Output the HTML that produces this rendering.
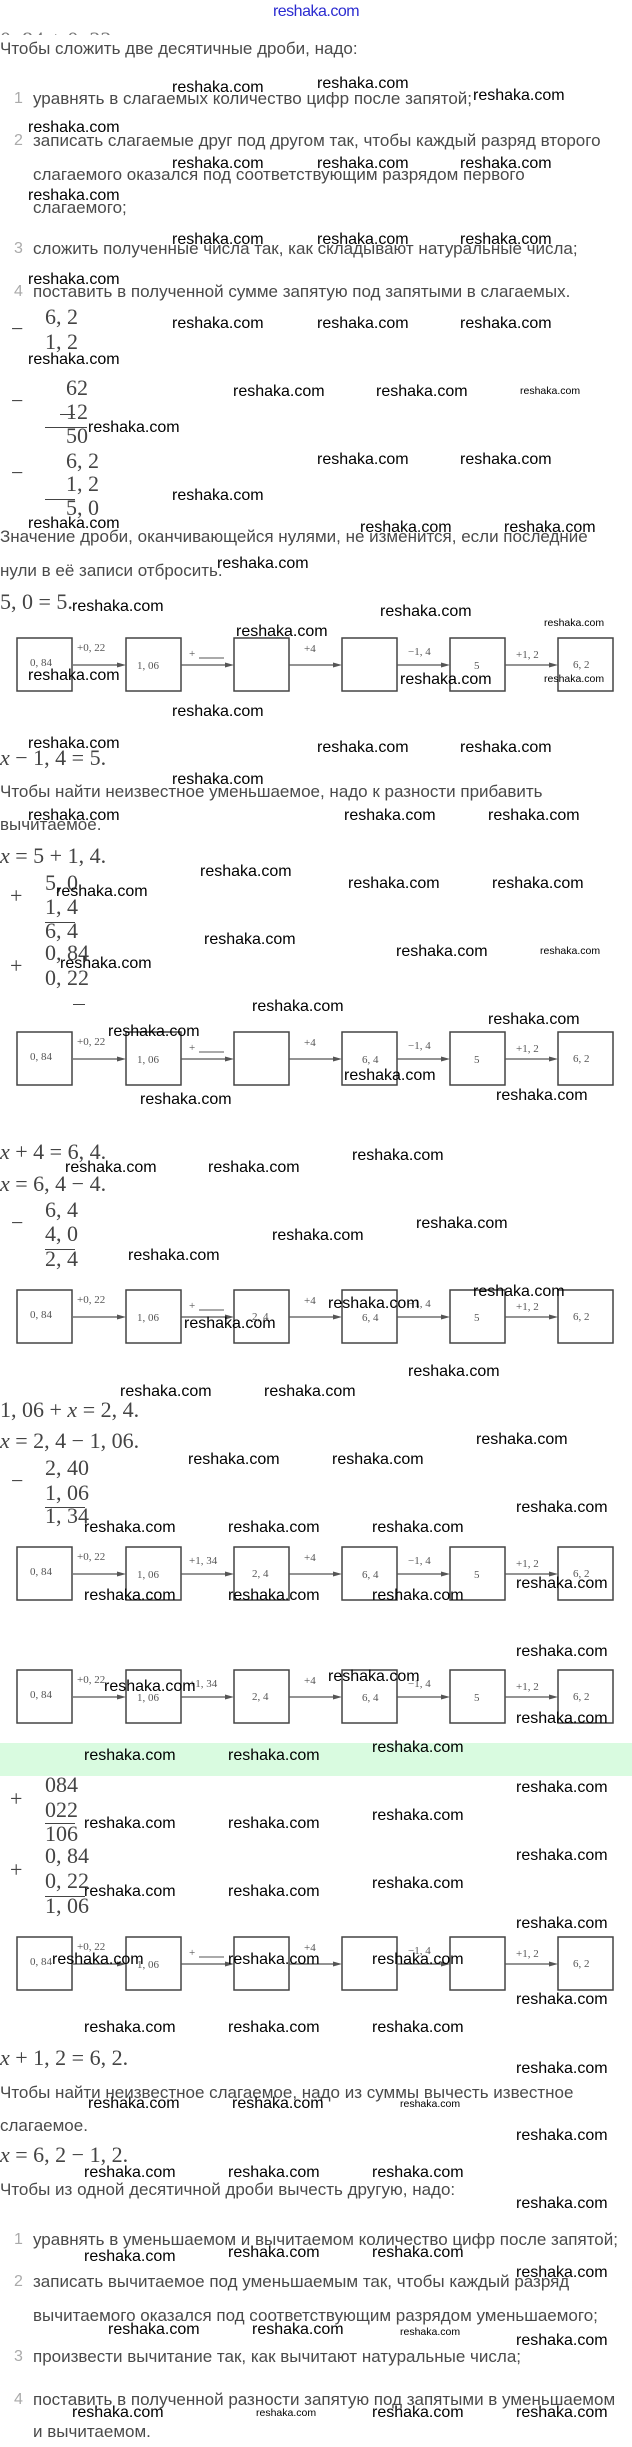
<!DOCTYPE html>
<html><head><meta charset="utf-8">
<style>
body{margin:0;background:#fff;}
#p{position:relative;width:632px;height:2447px;overflow:hidden;background:#fff;}
.t{position:absolute;font-family:"Liberation Sans",sans-serif;font-size:17px;line-height:20px;color:#4a4a4a;white-space:nowrap;}
.n{position:absolute;font-family:"Liberation Sans",sans-serif;font-size:16px;line-height:20px;color:#aaa;}
.m{position:absolute;font-family:"Liberation Serif",serif;font-size:22px;line-height:24px;color:#444;white-space:nowrap;}
.m i{font-style:italic;}
.hr{position:absolute;height:1px;background:#444;}
.w{position:absolute;font-family:"Liberation Sans",sans-serif;font-size:16px;line-height:18px;color:#000;white-space:nowrap;}
.ws{position:absolute;font-family:"Liberation Sans",sans-serif;font-size:10.5px;line-height:12px;color:#000;white-space:nowrap;}
</style></head><body><div id="p">

<div class="t" style="left:0;width:632px;top:2px;text-align:center;color:#2b2bd0;font-size:16px;letter-spacing:-0.5px">reshaka.com</div>
<div style="position:absolute;left:0;top:28px;height:7px;overflow:hidden;width:200px"><div class="m" style="left:0;top:0;color:#777">0, 84 + 0, 22</div></div>

<div class="t" style="left:0;top:39px">Чтобы сложить две десятичные дроби, надо:</div>
<div class="n" style="left:14px;top:89px">1</div><div class="t" style="left:33px;top:89px">уравнять в слагаемых количество цифр после запятой;</div>
<div class="n" style="left:14px;top:131px">2</div><div class="t" style="left:33px;top:131px">записать слагаемые друг под другом так, чтобы каждый разряд второго</div>
<div class="t" style="left:33px;top:165px">слагаемого оказался под соответствующим разрядом первого</div>
<div class="t" style="left:33px;top:198px">слагаемого;</div>
<div class="n" style="left:14px;top:239px">3</div><div class="t" style="left:33px;top:239px">сложить полученные числа так, как складывают натуральные числа;</div>
<div class="n" style="left:14px;top:282px">4</div><div class="t" style="left:33px;top:282px">поставить в полученной сумме запятую под запятыми в слагаемых.</div>

<!-- subtraction 1 -->
<div class="m" style="left:11px;top:317px">−</div>
<div class="m" style="left:45px;top:305px">6, 2</div>
<div class="m" style="left:45px;top:330px">1, 2</div>
<div class="hr" style="left:60px;top:414px;width:15px"></div>
<div class="m" style="left:11px;top:389px">−</div>
<div class="m" style="left:66px;top:376px">62</div>
<div class="m" style="left:66px;top:400px">12</div>
<div class="hr" style="left:45px;top:427px;width:42px"></div>
<div class="m" style="left:66px;top:424px">50</div>
<div class="m" style="left:11px;top:461px">−</div>
<div class="m" style="left:66px;top:449px">6, 2</div>
<div class="m" style="left:66px;top:472px">1, 2</div>
<div class="hr" style="left:45px;top:499px;width:30px"></div>
<div class="m" style="left:66px;top:496px">5, 0</div>

<div class="t" style="left:0;top:527px">Значение дроби, оканчивающейся нулями, не изменится, если последние</div>
<div class="t" style="left:0;top:561px">нули в её записи отбросить.</div>
<div class="m" style="left:0;top:590px">5, 0 = 5.</div>

<div class="m" style="left:0;top:746px"><i>x</i> − 1, 4 = 5.</div>
<div class="t" style="left:0;top:782px">Чтобы найти неизвестное уменьшаемое, надо к разности прибавить</div>
<div class="t" style="left:0;top:815px">вычитаемое.</div>
<div class="m" style="left:0;top:844px"><i>x</i> = 5 + 1, 4.</div>

<div class="m" style="left:10px;top:884px">+</div>
<div class="m" style="left:45px;top:871px">5, 0</div>
<div class="m" style="left:45px;top:895px">1, 4</div>
<div class="hr" style="left:45px;top:922px;width:30px"></div>
<div class="m" style="left:45px;top:919px">6, 4</div>
<div class="m" style="left:10px;top:954px">+</div>
<div class="m" style="left:45px;top:941px">0, 84</div>
<div class="m" style="left:45px;top:966px">0, 22</div>
<div class="hr" style="left:73px;top:1004px;width:12px"></div>

<div class="m" style="left:0;top:1140px"><i>x</i> + 4 = 6, 4.</div>
<div class="m" style="left:0;top:1172px"><i>x</i> = 6, 4 − 4.</div>
<div class="m" style="left:11px;top:1211px">−</div>
<div class="m" style="left:45px;top:1198px">6, 4</div>
<div class="m" style="left:45px;top:1222px">4, 0</div>
<div class="hr" style="left:45px;top:1249px;width:30px"></div>
<div class="m" style="left:45px;top:1247px">2, 4</div>

<div class="m" style="left:0;top:1398px">1, 06 + <i>x</i> = 2, 4.</div>
<div class="m" style="left:0;top:1429px"><i>x</i> = 2, 4 − 1, 06.</div>
<div class="m" style="left:11px;top:1469px">−</div>
<div class="m" style="left:45px;top:1456px">2, 40</div>
<div class="m" style="left:45px;top:1481px">1, 06</div>
<div class="hr" style="left:45px;top:1507px;width:40px"></div>
<div class="m" style="left:45px;top:1504px">1, 34</div>

<div style="position:absolute;left:0;top:1743px;width:632px;height:33px;background:#d9fbe0"></div>
<div class="m" style="left:10px;top:1787px">+</div>
<div class="m" style="left:45px;top:1773px">084</div>
<div class="m" style="left:45px;top:1798px">022</div>
<div class="hr" style="left:45px;top:1823px;width:30px"></div>
<div class="m" style="left:45px;top:1822px">106</div>
<div class="m" style="left:10px;top:1858px">+</div>
<div class="m" style="left:45px;top:1844px">0, 84</div>
<div class="m" style="left:45px;top:1869px">0, 22</div>
<div class="hr" style="left:45px;top:1896px;width:40px"></div>
<div class="m" style="left:45px;top:1894px">1, 06</div>

<div class="m" style="left:0;top:2046px"><i>x</i> + 1, 2 = 6, 2.</div>
<div class="t" style="left:0;top:2083px">Чтобы найти неизвестное слагаемое, надо из суммы вычесть известное</div>
<div class="t" style="left:0;top:2116px">слагаемое.</div>
<div class="m" style="left:0;top:2143px"><i>x</i> = 6, 2 − 1, 2.</div>
<div class="t" style="left:0;top:2180px">Чтобы из одной десятичной дроби вычесть другую, надо:</div>
<div class="n" style="left:14px;top:2230px">1</div><div class="t" style="left:33px;top:2230px">уравнять в уменьшаемом и вычитаемом количество цифр после запятой;</div>
<div class="n" style="left:14px;top:2272px">2</div><div class="t" style="left:33px;top:2272px">записать вычитаемое под уменьшаемым так, чтобы каждый разряд</div>
<div class="t" style="left:33px;top:2306px">вычитаемого оказался под соответствующим разрядом уменьшаемого;</div>
<div class="n" style="left:14px;top:2347px">3</div><div class="t" style="left:33px;top:2347px">произвести вычитание так, как вычитают натуральные числа;</div>
<div class="n" style="left:14px;top:2390px">4</div><div class="t" style="left:33px;top:2390px">поставить в полученной разности запятую под запятыми в уменьшаемом</div>
<div class="t" style="left:33px;top:2422px">и вычитаемом.</div>

<svg style="position:absolute;left:0;top:0" width="632" height="2447" font-family="Liberation Serif, serif" font-size="11" fill="#555">
<defs>
<g id="frame" stroke="#444" stroke-width="1.5" fill="none">
<rect x="17" y="0" width="55" height="53"/><rect x="126" y="0" width="55" height="53"/>
<rect x="234" y="0" width="55" height="53"/><rect x="342" y="0" width="55" height="53"/>
<rect x="450" y="0" width="55" height="53"/><rect x="558" y="0" width="55" height="53"/>
<g stroke="#555" stroke-width="1.2">
<line x1="73" y1="27" x2="122" y2="27"/><line x1="181" y1="27" x2="230" y2="27"/>
<line x1="289" y1="27" x2="338" y2="27"/><line x1="397" y1="27" x2="446" y2="27"/>
<line x1="505" y1="27" x2="554" y2="27"/></g>
<g fill="#555" stroke="none">
<polygon points="126,27 117,24.5 117,29.5"/><polygon points="234,27 225,24.5 225,29.5"/>
<polygon points="342,27 333,24.5 333,29.5"/><polygon points="450,27 441,24.5 441,29.5"/>
<polygon points="558,27 549,24.5 549,29.5"/></g>
</g>
<g id="lab">
<text x="77" y="13">+0, 22</text><text x="304" y="14">+4</text>
<text x="408" y="17">−1, 4</text><text x="516" y="20">+1, 2</text>
<text x="30" y="28">0, 84</text><text x="137" y="31">1, 06</text><text x="573" y="30">6, 2</text>
</g>
<g id="blank"><text x="189" y="19">+</text><line x1="199" y1="20" x2="224" y2="20" stroke="#555" stroke-width="1"/></g>
</defs>
<g transform="translate(0,638)"><use href="#frame"/><use href="#lab"/><use href="#blank"/><text x="474" y="31">5</text></g>
<g transform="translate(0,1032)"><use href="#frame"/><use href="#lab"/><use href="#blank"/><text x="362" y="31">6, 4</text><text x="474" y="31">5</text></g>
<g transform="translate(0,1290)"><use href="#frame"/><use href="#lab"/><use href="#blank"/><text x="252" y="30">2, 4</text><text x="362" y="31">6, 4</text><text x="474" y="31">5</text></g>
<g transform="translate(0,1547)"><use href="#frame"/><use href="#lab"/><text x="189" y="17">+1, 34</text><text x="252" y="30">2, 4</text><text x="362" y="31">6, 4</text><text x="474" y="31">5</text></g>
<g transform="translate(0,1670)"><use href="#frame"/><use href="#lab"/><text x="189" y="17">+1, 34</text><text x="252" y="30">2, 4</text><text x="362" y="31">6, 4</text><text x="474" y="31">5</text></g>
<g transform="translate(0,1937)"><use href="#frame"/><use href="#lab"/><use href="#blank"/></g>
</svg>

<!-- watermarks -->
<div class="w" style="left:172px;top:79px">reshaka.com</div><div class="w" style="left:317px;top:75px">reshaka.com</div><div class="w" style="left:473px;top:87px">reshaka.com</div>
<div class="w" style="left:28px;top:119px">reshaka.com</div>
<div class="w" style="left:172px;top:155px">reshaka.com</div><div class="w" style="left:317px;top:155px">reshaka.com</div><div class="w" style="left:460px;top:155px">reshaka.com</div>
<div class="w" style="left:28px;top:187px">reshaka.com</div>
<div class="w" style="left:172px;top:231px">reshaka.com</div><div class="w" style="left:317px;top:231px">reshaka.com</div><div class="w" style="left:460px;top:231px">reshaka.com</div>
<div class="w" style="left:28px;top:271px">reshaka.com</div>
<div class="w" style="left:172px;top:315px">reshaka.com</div><div class="w" style="left:317px;top:315px">reshaka.com</div><div class="w" style="left:460px;top:315px">reshaka.com</div>
<div class="w" style="left:28px;top:351px">reshaka.com</div>
<div class="w" style="left:233px;top:383px">reshaka.com</div><div class="w" style="left:376px;top:383px">reshaka.com</div><div class="ws" style="left:520px;top:385px">reshaka.com</div>
<div class="w" style="left:88px;top:419px">reshaka.com</div>
<div class="w" style="left:317px;top:451px">reshaka.com</div><div class="w" style="left:460px;top:451px">reshaka.com</div>
<div class="w" style="left:172px;top:487px">reshaka.com</div>
<div class="w" style="left:28px;top:515px">reshaka.com</div><div class="w" style="left:360px;top:519px">reshaka.com</div><div class="w" style="left:504px;top:519px">reshaka.com</div>
<div class="w" style="left:217px;top:555px">reshaka.com</div>
<div class="w" style="left:72px;top:598px">reshaka.com</div><div class="w" style="left:380px;top:603px">reshaka.com</div><div class="ws" style="left:544px;top:617px">reshaka.com</div>
<div class="w" style="left:236px;top:623px">reshaka.com</div>
<div class="w" style="left:28px;top:667px">reshaka.com</div><div class="w" style="left:400px;top:671px">reshaka.com</div><div class="ws" style="left:544px;top:673px">reshaka.com</div>
<div class="w" style="left:172px;top:703px">reshaka.com</div>
<div class="w" style="left:28px;top:735px">reshaka.com</div><div class="w" style="left:317px;top:739px">reshaka.com</div><div class="w" style="left:460px;top:739px">reshaka.com</div>
<div class="w" style="left:172px;top:771px">reshaka.com</div>
<div class="w" style="left:28px;top:807px">reshaka.com</div><div class="w" style="left:344px;top:807px">reshaka.com</div><div class="w" style="left:488px;top:807px">reshaka.com</div>
<div class="w" style="left:200px;top:863px">reshaka.com</div><div class="w" style="left:56px;top:883px">reshaka.com</div><div class="w" style="left:348px;top:875px">reshaka.com</div><div class="w" style="left:492px;top:875px">reshaka.com</div>
<div class="w" style="left:204px;top:931px">reshaka.com</div><div class="w" style="left:396px;top:943px">reshaka.com</div><div class="ws" style="left:540px;top:945px">reshaka.com</div>
<div class="w" style="left:60px;top:955px">reshaka.com</div>
<div class="w" style="left:252px;top:998px">reshaka.com</div><div class="w" style="left:488px;top:1011px">reshaka.com</div>
<div class="w" style="left:108px;top:1023px">reshaka.com</div>
<div class="w" style="left:344px;top:1067px">reshaka.com</div><div class="w" style="left:140px;top:1091px">reshaka.com</div><div class="w" style="left:496px;top:1087px">reshaka.com</div>
<div class="w" style="left:352px;top:1147px">reshaka.com</div><div class="w" style="left:65px;top:1159px">reshaka.com</div><div class="w" style="left:208px;top:1159px">reshaka.com</div>
<div class="w" style="left:416px;top:1215px">reshaka.com</div><div class="w" style="left:272px;top:1227px">reshaka.com</div><div class="w" style="left:128px;top:1247px">reshaka.com</div>
<div class="w" style="left:473px;top:1283px">reshaka.com</div><div class="w" style="left:328px;top:1295px">reshaka.com</div><div class="w" style="left:184px;top:1315px">reshaka.com</div>
<div class="w" style="left:408px;top:1363px">reshaka.com</div><div class="w" style="left:120px;top:1383px">reshaka.com</div><div class="w" style="left:264px;top:1383px">reshaka.com</div>
<div class="w" style="left:476px;top:1431px">reshaka.com</div><div class="w" style="left:188px;top:1451px">reshaka.com</div><div class="w" style="left:332px;top:1451px">reshaka.com</div>
<div class="w" style="left:516px;top:1499px">reshaka.com</div>
<div class="w" style="left:84px;top:1519px">reshaka.com</div><div class="w" style="left:228px;top:1519px">reshaka.com</div><div class="w" style="left:372px;top:1519px">reshaka.com</div>
<div class="w" style="left:516px;top:1575px">reshaka.com</div>
<div class="w" style="left:84px;top:1587px">reshaka.com</div><div class="w" style="left:228px;top:1587px">reshaka.com</div><div class="w" style="left:372px;top:1587px">reshaka.com</div>
<div class="w" style="left:516px;top:1643px">reshaka.com</div><div class="w" style="left:328px;top:1668px">reshaka.com</div><div class="w" style="left:104px;top:1678px">reshaka.com</div>
<div class="w" style="left:516px;top:1710px">reshaka.com</div>
<div class="w" style="left:84px;top:1747px">reshaka.com</div><div class="w" style="left:228px;top:1747px">reshaka.com</div><div class="w" style="left:372px;top:1739px">reshaka.com</div>
<div class="w" style="left:516px;top:1779px">reshaka.com</div><div class="w" style="left:372px;top:1807px">reshaka.com</div>
<div class="w" style="left:84px;top:1815px">reshaka.com</div><div class="w" style="left:228px;top:1815px">reshaka.com</div>
<div class="w" style="left:516px;top:1847px">reshaka.com</div><div class="w" style="left:372px;top:1875px">reshaka.com</div>
<div class="w" style="left:84px;top:1883px">reshaka.com</div><div class="w" style="left:228px;top:1883px">reshaka.com</div>
<div class="w" style="left:516px;top:1915px">reshaka.com</div>
<div class="w" style="left:52px;top:1951px">reshaka.com</div><div class="w" style="left:228px;top:1951px">reshaka.com</div><div class="w" style="left:372px;top:1951px">reshaka.com</div>
<div class="w" style="left:516px;top:1991px">reshaka.com</div>
<div class="w" style="left:84px;top:2019px">reshaka.com</div><div class="w" style="left:228px;top:2019px">reshaka.com</div><div class="w" style="left:372px;top:2019px">reshaka.com</div>
<div class="w" style="left:516px;top:2060px">reshaka.com</div>
<div class="w" style="left:88px;top:2095px">reshaka.com</div><div class="w" style="left:232px;top:2095px">reshaka.com</div><div class="ws" style="left:400px;top:2098px">reshaka.com</div>
<div class="w" style="left:516px;top:2127px">reshaka.com</div>
<div class="w" style="left:84px;top:2164px">reshaka.com</div><div class="w" style="left:228px;top:2164px">reshaka.com</div><div class="w" style="left:372px;top:2164px">reshaka.com</div>
<div class="w" style="left:516px;top:2195px">reshaka.com</div>
<div class="w" style="left:84px;top:2248px">reshaka.com</div><div class="w" style="left:228px;top:2244px">reshaka.com</div><div class="w" style="left:372px;top:2244px">reshaka.com</div>
<div class="w" style="left:516px;top:2264px">reshaka.com</div>
<div class="w" style="left:108px;top:2321px">reshaka.com</div><div class="w" style="left:252px;top:2321px">reshaka.com</div><div class="ws" style="left:400px;top:2326px">reshaka.com</div>
<div class="w" style="left:516px;top:2332px">reshaka.com</div>
<div class="w" style="left:72px;top:2404px">reshaka.com</div><div class="ws" style="left:256px;top:2407px">reshaka.com</div><div class="w" style="left:372px;top:2404px">reshaka.com</div><div class="w" style="left:516px;top:2404px">reshaka.com</div>

</div></body></html>
